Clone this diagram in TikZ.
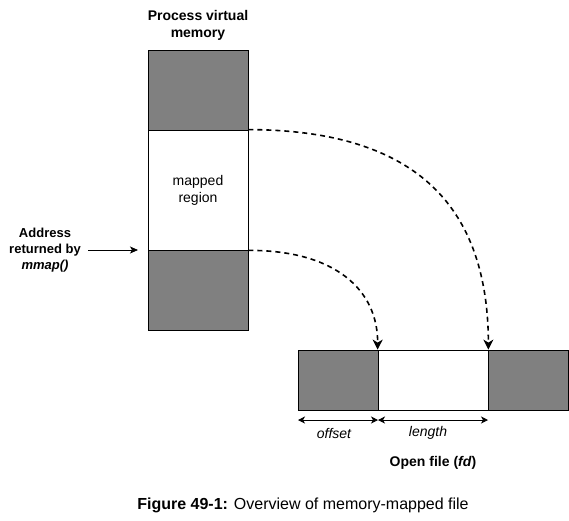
\documentclass[tikz,border=0pt]{standalone}
\usepackage{fontspec}
\setmainfont{Liberation Sans}
\usetikzlibrary{arrows.meta, positioning}
\tikzset{%
	used/.style={draw, rectangle, inner sep=0mm, fill=black!50, line width=0.8pt},
	free/.style={draw, rectangle, inner sep=0mm, fill=white, line width=0.8pt},
	maplink/.style={-{Stealth[length=10pt,width=10pt,inset=3pt]}, line width=1.6pt, dash pattern=on 5pt off 4pt},
	span/.style={{Stealth[length=7pt,width=7pt,inset=2pt]}-{Stealth[length=7pt,width=7pt,inset=2pt]}, line width=0.8pt},
	textnode/.style={align=center, font=\fontsize{14}{17}\selectfont}
}
\begin{document}
\begin{tikzpicture}[x=1pt, y=-1pt]
  \useasboundingbox (0,0) rectangle (569,520);
  % process memory
  \node[textnode, font=\fontsize{14}{17}\selectfont\bfseries] (title) at (198,25) {Process virtual\\memory};
  \node[used, minimum width=100pt, minimum height=80pt] (top) at (198,90) {};
  \node[free, minimum width=100pt, minimum height=120pt] (region) at (198,190) {};
  \node[textnode] (regionlabel) at (region.center) {mapped\\region};
  \node[used, minimum width=100pt, minimum height=80pt] (bottom) at (198,290) {};

  \node[textnode, font=\fontsize{13}{16}\selectfont\bfseries] (addr) at (45,250) {Address\\returned by\\\textit{mmap()}};
  \coordinate (addrend) at (138,250);
  \draw[-{Stealth[length=8pt,width=7pt,inset=2pt]}, line width=0.8pt] (addr.east) ++(4pt,0) coordinate (addrstart) -- (addrend);

  % open file
  \node[used, minimum width=80pt, minimum height=60pt] (fleft) at (338,380) {};
  \node[free, minimum width=110pt, minimum height=60pt] (fmid) at (433,380) {};
  \node[used, minimum width=80pt, minimum height=60pt] (fright) at (528,380) {};

  \coordinate (o1) at (298,420);
  \coordinate (o2) at (378,420);
  \coordinate (o3) at (488,420);
  \draw[span] (o1) -- (o2);
  \draw[span] (o2) -- (o3);
  \node[textnode, font=\fontsize{14}{17}\selectfont\itshape] (offset) at (334,433) {offset};
  \node[textnode, font=\fontsize{14}{17}\selectfont\itshape] (length) at (428,433) {length};
  \node[textnode, font=\fontsize{14}{17}\selectfont\bfseries] (file) at (433,463) {Open file (\textit{fd})};

  \draw[maplink] (region.north east) .. controls (420,130) and (488,210) .. (fmid.north east);
  \draw[maplink] (region.south east) .. controls (335,250) and (378,290) .. (fmid.north west);

  \node[font=\fontsize{16}{19}\selectfont] (caption) at (303,505) {\textbf{Figure 49-1:} Overview of memory-mapped file};
\end{tikzpicture}
\end{document}
